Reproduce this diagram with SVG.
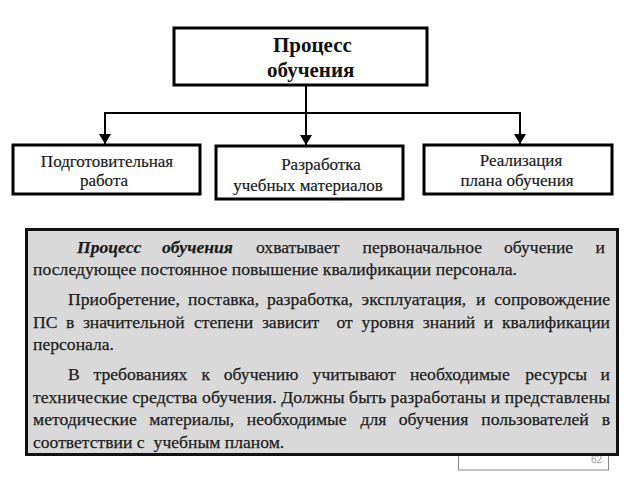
<svg xmlns="http://www.w3.org/2000/svg" width="640" height="480" viewBox="0 0 640 480">
  <defs>
    <marker id="arr" viewBox="0 0 10 12" refX="10" refY="6" markerWidth="10" markerHeight="12" markerUnits="userSpaceOnUse" orient="auto">
      <path d="M0,0 L10,6 L0,12 Z" fill="#000"/>
    </marker>
    <style>
      .box { fill: #fff; stroke: #000; stroke-width: 3; }
      text { font-family: 'Liberation Serif', 'DejaVu Serif', serif; }
      .lbl { font-size: 17px; fill: #1a1a1a; stroke: #1a1a1a; stroke-width: 0.2; }
      .ttl { font-size: 21px; font-weight: bold; fill: #111; }
      .conn { fill: none; stroke: #000; stroke-width: 2; }
      .body { font-size: 17.6px; fill: #1c1c1c; stroke: #1c1c1c; stroke-width: 0.25; }
      .bi { font-weight: bold; font-style: italic; }
      .pg { font-family: 'Liberation Sans', sans-serif; font-size: 10px; fill: #999; }
    </style>
  </defs>
  <rect width="640" height="480" fill="#fff"/>

  <g id="connectors">
    <line class="conn" x1="306" y1="85" x2="306" y2="113"/>
    <line class="conn" x1="105" y1="113" x2="520" y2="113"/>
    <line class="conn" x1="105" y1="112" x2="105" y2="144" marker-end="url(#arr)"/>
    <line class="conn" x1="306" y1="113" x2="306" y2="145" marker-end="url(#arr)"/>
    <line class="conn" x1="520" y1="112" x2="520" y2="144" marker-end="url(#arr)"/>
  </g>

  <g id="node-process">
    <rect class="box" x="174" y="28" width="253" height="57"/>
    <text class="ttl" x="273" y="52">Процесс</text>
    <text class="ttl" x="267" y="77">обучения</text>
  </g>

  <g id="node-prep">
    <rect class="box" x="13" y="145" width="187" height="49"/>
    <text class="lbl" x="107" y="167" text-anchor="middle">Подготовительная</text>
    <text class="lbl" x="104" y="186" text-anchor="middle">работа</text>
  </g>

  <g id="node-dev">
    <rect class="box" x="216" y="146" width="187" height="53"/>
    <text class="lbl" x="321" y="170" text-anchor="middle">Разработка</text>
    <text class="lbl" x="308" y="191" text-anchor="middle">учебных материалов</text>
  </g>

  <g id="node-impl">
    <rect class="box" x="424" y="145" width="188" height="49"/>
    <text class="lbl" x="521" y="166" text-anchor="middle">Реализация</text>
    <text class="lbl" x="517" y="186" text-anchor="middle">плана обучения</text>
  </g>

  <g id="page-number">
    <rect x="458.5" y="420" width="150" height="50" fill="#fff" stroke="#888" stroke-width="1"/>
    <text class="pg" x="602" y="463" text-anchor="end">62</text>
  </g>

  <g id="text-panel">
    <rect x="26.5" y="229.5" width="591" height="225" fill="#d9d9d9" stroke="#111" stroke-width="3"/>
    <text class="body" y="252.5"><tspan class="bi" x="77">Процесс</tspan><tspan class="bi" x="162">обучения</tspan><tspan x="256">охватывает</tspan><tspan x="362.6">первоначальное</tspan><tspan x="504">обучение</tspan><tspan x="605" text-anchor="end">и</tspan></text>
    <text class="body" x="33" y="275" textLength="484" lengthAdjust="spacing">последующее постоянное повышение квалификации персонала.</text>
    <text class="body" y="305"><tspan x="68">Приобретение,</tspan><tspan x="188.1">поставка,</tspan><tspan x="267">разработка,</tspan><tspan x="361.6">эксплуатация,</tspan><tspan x="476">и</tspan><tspan x="610" text-anchor="end">сопровождение</tspan></text>
    <text class="body" y="327.5"><tspan x="33">ПС</tspan><tspan x="66">в</tspan><tspan x="82.9">значительной</tspan><tspan x="193.9">степени</tspan><tspan x="261.9">зависит</tspan><tspan x="336.5">от</tspan><tspan x="361.6">уровня</tspan><tspan x="422.8">знаний</tspan><tspan x="483.8">и</tspan><tspan x="610" text-anchor="end">квалификации</tspan></text>
    <text class="body" x="33" y="350">персонала.</text>
    <text class="body" y="380"><tspan x="68">В</tspan><tspan x="93.5">требованиях</tspan><tspan x="201.4">к</tspan><tspan x="223.8">обучению</tspan><tspan x="312.6">учитывают</tspan><tspan x="409.9">необходимые</tspan><tspan x="525.3">ресурсы</tspan><tspan x="610" text-anchor="end">и</tspan></text>
    <text class="body" x="33" y="402.5" textLength="577" lengthAdjust="spacing">технические средства обучения. Должны быть разработаны и представлены</text>
    <text class="body" y="425"><tspan x="33">методические</tspan><tspan x="149.2">материалы,</tspan><tspan x="246.8">необходимые</tspan><tspan x="360.5">для</tspan><tspan x="398.8">обучения</tspan><tspan x="481.3">пользователей</tspan><tspan x="610" text-anchor="end">в</tspan></text>
    <text class="body" y="447.5"><tspan x="33">соответствии с</tspan><tspan x="153.6">учебным планом.</tspan></text>
  </g>
</svg>
